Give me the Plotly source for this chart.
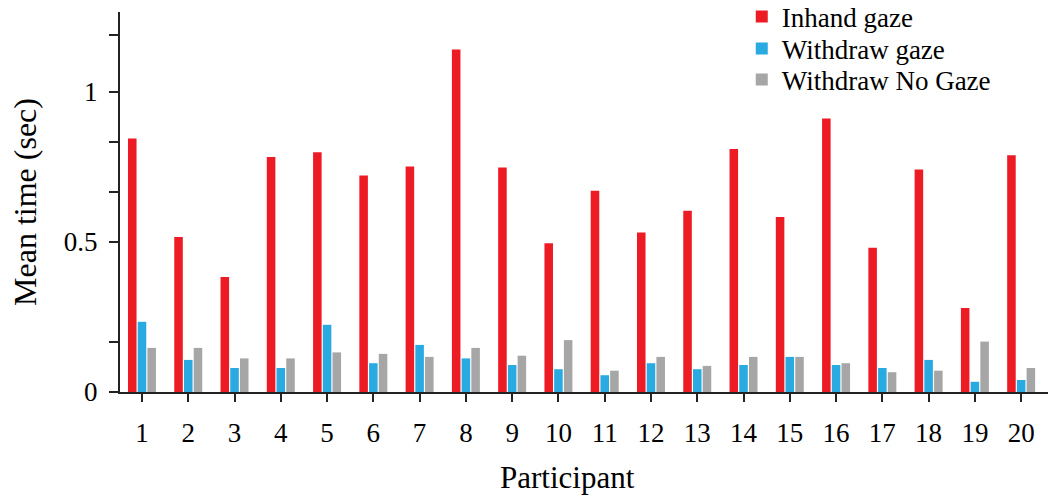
import plotly.graph_objects as go

participants = list(range(1, 21))
inhand_gaze = [0.845, 0.517, 0.383, 0.783, 0.799, 0.722, 0.752, 1.142, 0.748, 0.496,
               0.671, 0.532, 0.604, 0.810, 0.583, 0.912, 0.481, 0.742, 0.280, 0.789]
withdraw_gaze = [0.234, 0.107, 0.080, 0.080, 0.224, 0.096, 0.157, 0.112, 0.090, 0.076,
                 0.056, 0.096, 0.076, 0.090, 0.117, 0.090, 0.080, 0.107, 0.034, 0.040]
withdraw_no_gaze = [0.147, 0.147, 0.112, 0.112, 0.132, 0.127, 0.117, 0.147, 0.121, 0.173,
                    0.071, 0.117, 0.087, 0.117, 0.117, 0.096, 0.066, 0.071, 0.168, 0.080]
series_names = ["Inhand gaze", "Withdraw gaze", "Withdraw No Gaze"]
colors = ["#ED1C24", "#29ABE2", "#A6A6A6"]
y_tickvals = [0, 1/6, 0.5, 2/3, 5/6, 1, 1.19]
y_ticktext = ["0", "", "0.5", "", "", "1", ""]

FONT = "Liberation Serif"
legend_ids = ["legend", "legend2", "legend3"]
legend_rows_y = [0.987, 0.903, 0.821]

fig = go.Figure()
for name, vals, col, lid in zip(series_names, [inhand_gaze, withdraw_gaze, withdraw_no_gaze], colors, legend_ids):
    fig.add_trace(go.Bar(x=participants, y=vals, name=name, legend=lid,
                         marker=dict(color=col, line=dict(width=0))))

legend_common = dict(x=0.670, xanchor="left", yanchor="middle",
                     font=dict(family=FONT, size=27, color="black"),
                     bgcolor="rgba(0,0,0,0)", itemwidth=30)

fig.update_layout(
    width=1048, height=496,
    margin=dict(l=120, r=0, t=12, b=104, autoexpand=False),
    paper_bgcolor="white", plot_bgcolor="white",
    barmode="group", bargap=0.37, bargroupgap=0.12,
    font=dict(family=FONT, color="black", size=27),
    legend=dict(y=legend_rows_y[0], **legend_common),
    legend2=dict(y=legend_rows_y[1], **legend_common),
    legend3=dict(y=legend_rows_y[2], **legend_common),
    showlegend=True,
    annotations=[dict(text="Participant", xref="paper", yref="paper", x=0.4817, y=-0.224,
                      xanchor="center", yanchor="middle", showarrow=False,
                      font=dict(family=FONT, size=31, color="black"))],
)
fig.update_xaxes(
    range=[0.525, 20.58], tickvals=participants, ticktext=[str(p) for p in participants],
    showline=True, linecolor="#222", linewidth=2, ticks="outside", ticklen=8, tickwidth=2,
    tickcolor="#222", showgrid=False, zeroline=False, automargin=False,
    ticklabelstandoff=8,
    tickfont=dict(family=FONT, size=27, color="black"),
)
fig.update_yaxes(
    range=[0, 1.2667], tickvals=y_tickvals, ticktext=y_ticktext,
    showline=True, linecolor="#222", linewidth=2, ticks="outside", ticklen=9, tickwidth=2,
    tickcolor="#222", showgrid=False, zeroline=False, automargin=False,
    ticklabelstandoff=6,
    tickfont=dict(family=FONT, size=27, color="black"),
    title=dict(text="Mean time (sec)", font=dict(family=FONT, size=32, color="black"), standoff=18),
)

fig.write_html("out.html", config={"displayModeBar": False},
               post_script="document.body.style.margin='0';document.body.style.overflow='hidden';")
